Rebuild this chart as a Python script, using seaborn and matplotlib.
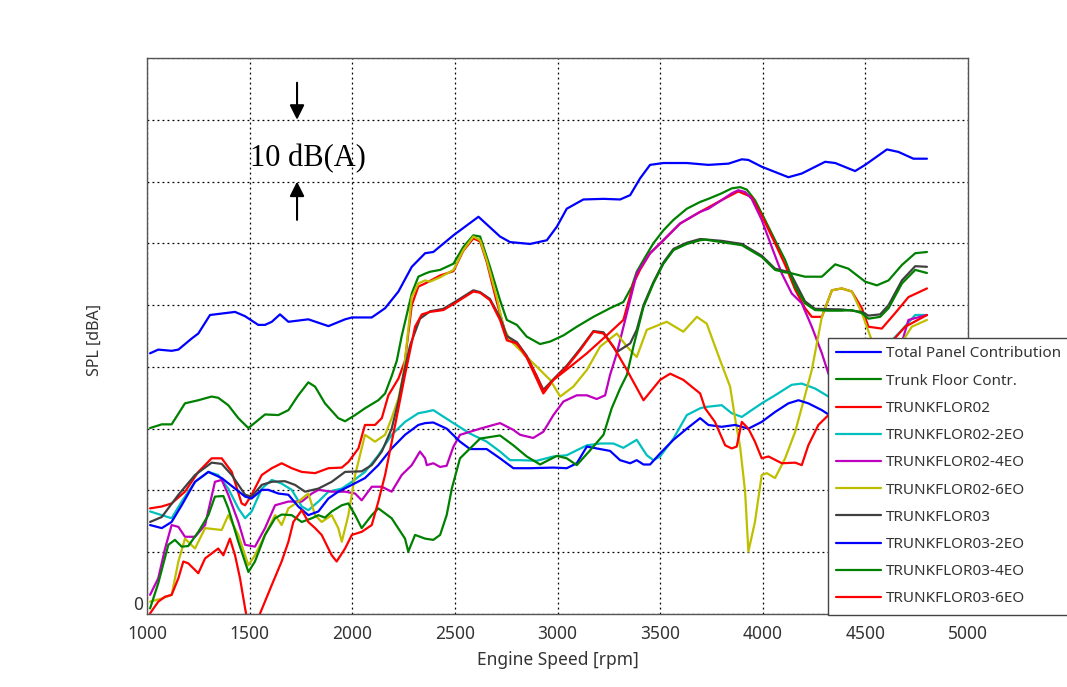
import numpy as np
import pandas as pd
import matplotlib
matplotlib.use("Agg")
import matplotlib.pyplot as plt
import seaborn as sns

# ---------------- data (rpm, dB) ----------------
total_rpm = [1015,1055,1120,1153,1218,1250,1307,1429,1478,1542,1575,1608,1648,1689,1786,1884,1965,1998,2095,2160,2225,2290,2355,2395,2493,2615,2720,2769,2866,2948,2997,3045,3126,3224,3305,3354,3402,3451,3516,3630,3735,3833,3898,3930,3995,4125,4190,4304,4353,4450,4499,4605,4661,4734,4800]
total_db = [42.2,42.8,42.6,42.8,44.6,45.4,48.4,48.9,48.2,46.8,46.8,47.3,48.5,47.3,47.7,46.6,47.7,48.0,48.0,49.5,52.2,56.2,58.4,58.6,61.3,64.3,61.1,60.2,59.9,60.5,62.7,65.6,67.1,67.2,67.1,67.8,70.5,72.7,73.0,73.0,72.7,72.9,73.6,73.5,72.4,70.7,71.3,73.2,73.0,71.7,72.7,75.2,74.8,73.7,73.7]

tf_rpm = [1015,1072,1120,1185,1250,1315,1347,1396,1445,1494,1542,1575,1640,1689,1737,1786,1819,1867,1932,1965,2014,2062,2127,2160,2192,2217,2241,2290,2322,2355,2379,2428,2493,2541,2590,2623,2671,2720,2753,2802,2850,2915,2964,3029,3094,3175,3256,3321,3362,3386,3419,3467,3516,3565,3630,3695,3735,3800,3849,3890,3922,3962,4011,4060,4109,4133,4206,4288,4353,4417,4499,4556,4613,4678,4743,4800]
tf_db = [30.1,30.7,30.7,34.1,34.6,35.2,35.0,33.8,31.7,30.1,31.4,32.3,32.2,33.0,35.4,37.5,36.8,34.1,31.7,31.2,32.2,33.3,34.6,35.7,38.5,41.0,45.0,51.9,54.6,55.1,55.4,55.7,56.7,59.4,61.3,61.1,56.2,50.8,47.6,46.8,44.9,43.7,44.1,45.1,46.5,48.1,49.5,50.5,53.0,55.4,57.3,60.0,62.1,63.8,65.6,66.7,67.2,68.1,68.9,69.1,68.7,67.0,63.8,60.5,57.3,55.2,54.6,54.6,56.6,55.9,53.8,53.2,54.0,56.5,58.4,58.6]

r02_rpm = [1015,1072,1120,1185,1250,1315,1364,1413,1461,1478,1510,1559,1608,1656,1705,1754,1819,1884,1949,1981,2030,2062,2111,2144,2176,2225,2257,2290,2322,2355,2428,2493,2541,2590,2623,2655,2704,2753,2802,2850,2899,2931,2980,3061,3143,3240,3321,3370,3402,3451,3516,3597,3695,3800,3881,3946,3995,4060,4109,4158,4206,4239,4288,4337,4385,4434,4483,4515,4580,4645,4710,4800]
r02_db = [17.1,17.4,17.9,19.8,23.0,25.2,25.2,23.0,17.9,17.6,19.3,22.5,23.6,24.4,23.6,23.0,22.8,23.6,23.7,24.6,26.8,30.6,30.6,31.7,35.4,38.1,41.0,50.0,53.0,53.5,54.8,55.5,58.8,60.8,60.3,57.0,50.5,44.8,43.5,41.5,38.0,35.7,37.9,40.0,42.2,45.1,47.6,53.5,55.7,58.4,60.5,63.2,65.1,67.0,68.4,67.5,64.5,60.0,56.5,52.5,49.5,48.1,48.1,52.4,52.7,52.2,49.5,46.5,46.2,48.7,51.3,52.7]

r02_2eo_rpm = [1015,1072,1120,1169,1234,1299,1347,1396,1445,1478,1510,1559,1608,1656,1705,1754,1786,1835,1884,1949,1998,2062,2127,2192,2257,2322,2355,2395,2493,2574,2655,2720,2769,2818,2899,2980,3045,3094,3143,3208,3272,3321,3386,3435,3467,3500,3565,3630,3695,3719,3800,3849,3898,3946,3995,4060,4141,4190,4255,4320,4400,4500,4600,4629,4678,4743,4800]
r02_2eo_db = [16.6,16.0,15.5,18.2,21.4,23.0,22.5,20.3,17.1,15.5,16.6,20.3,21.7,21.1,20.1,17.4,16.8,18.2,19.8,20.3,21.4,23.0,25.7,29.0,31.1,32.5,32.7,33.0,30.9,29.2,27.9,26.3,24.9,24.9,24.8,25.5,25.7,26.5,27.3,27.6,27.6,26.9,28.2,25.7,24.9,25.5,28.4,32.2,33.3,33.5,33.8,32.5,31.9,33.0,34.1,35.4,37.1,37.3,36.5,35.2,36.0,39.5,42.0,44.3,46.0,48.4,48.4]

r02_4eo_rpm = [1015,1055,1088,1120,1153,1185,1234,1283,1331,1364,1396,1445,1478,1526,1575,1624,1689,1754,1803,1835,1900,1965,2014,2046,2095,2144,2192,2241,2290,2330,2355,2363,2395,2428,2460,2493,2525,2623,2720,2785,2818,2882,2931,2980,3029,3094,3143,3191,3232,3256,3289,3338,3386,3451,3516,3597,3695,3735,3800,3849,3881,3914,3946,3995,4044,4093,4141,4190,4239,4288,4320,4400,4500,4600,4669,4710,4800]
r02_4eo_db = [3.1,5.8,10.6,14.4,14.1,12.5,12.5,14.4,21.4,21.7,19.3,14.9,11.2,10.9,13.9,17.6,18.2,18.2,19.5,20.1,19.8,19.8,19.5,18.4,20.6,20.6,19.8,22.5,24.1,26.3,25.2,24.1,24.4,23.8,24.0,27.1,29.0,30.0,30.9,29.8,29.0,28.5,29.5,32.2,34.4,35.4,35.4,34.8,35.4,38.7,42.2,48.7,55.1,58.4,60.5,63.2,65.1,65.6,67.0,68.1,68.6,68.3,67.2,63.8,59.4,55.1,51.9,50.3,46.5,42.2,38.9,34.0,33.5,37.0,43.0,47.6,48.4]

r02_6eo_rpm = [1015,1072,1120,1153,1185,1234,1283,1364,1396,1445,1494,1526,1575,1624,1656,1689,1737,1786,1819,1851,1900,1932,1949,1981,2014,2062,2111,2160,2192,2225,2249,2290,2322,2355,2379,2428,2493,2541,2590,2623,2655,2704,2736,2769,2818,2866,2915,2964,3013,3077,3143,3208,3289,3338,3386,3435,3532,3613,3679,3727,3792,3841,3865,3890,3914,3930,3962,3995,4020,4060,4109,4158,4206,4239,4288,4337,4385,4434,4483,4531,4600,4669,4726,4800]
r02_6eo_db = [2.0,2.5,3.1,8.5,12.2,10.6,13.9,13.6,16.0,12.8,7.9,9.5,12.8,16.0,14.4,17.1,18.2,19.5,16.0,14.9,16.0,13.9,11.7,16.0,22.5,29.0,27.9,29.0,31.7,34.9,38.7,51.3,53.5,54.0,53.8,54.5,55.7,58.9,61.1,60.5,57.3,51.3,46.5,44.3,42.7,41.1,39.5,37.9,35.2,36.8,39.5,43.3,45.4,43.3,41.6,46.0,47.3,45.7,48.1,47.0,41.1,36.8,31.7,27.0,19.8,10.1,14.9,22.5,22.8,22.0,25.2,29.5,35.4,39.5,48.1,52.4,52.7,52.2,48.7,44.3,42.0,43.5,46.5,47.6]

r03_rpm = [1015,1072,1153,1234,1315,1364,1413,1478,1510,1559,1608,1672,1721,1770,1835,1900,1965,2046,2095,2144,2192,2225,2249,2282,2330,2379,2444,2509,2590,2623,2671,2720,2753,2802,2850,2899,2931,2980,3045,3110,3175,3224,3256,3289,3354,3386,3419,3467,3516,3565,3630,3695,3800,3898,3995,4060,4133,4206,4255,4385,4483,4515,4572,4613,4678,4743,4800]
r03_db = [14.9,15.7,19.3,22.5,24.5,24.3,22.5,19.3,19.0,20.9,21.4,21.5,20.9,19.8,20.3,21.4,23.0,23.1,24.1,26.3,30.0,34.4,38.7,43.5,47.8,49.0,49.4,50.7,52.4,52.1,51.0,48.0,45.0,44.0,41.8,38.5,36.3,38.0,40.2,42.9,45.8,45.6,44.0,42.4,43.8,46.0,50.0,53.7,56.9,59.1,60.1,60.7,60.4,59.9,58.0,55.9,55.3,50.6,49.4,49.3,48.9,48.3,48.5,50.0,54.0,56.3,56.2]

r03_2eo_rpm = [1015,1072,1120,1169,1234,1299,1364,1429,1478,1510,1559,1591,1640,1689,1737,1786,1835,1884,1932,1998,2062,2127,2192,2257,2322,2355,2395,2460,2525,2574,2655,2720,2785,2866,2980,3045,3094,3143,3191,3256,3305,3354,3386,3419,3451,3500,3565,3630,3695,3735,3800,3865,3930,3995,4060,4125,4174,4222,4288,4320,4400,4500,4650,4800]
r03_2eo_db = [14.4,13.9,14.9,17.6,21.4,23.0,22.0,20.3,19.0,18.7,20.1,20.1,19.5,19.3,17.4,16.0,16.6,18.7,19.8,20.9,22.0,24.1,26.8,29.0,30.6,30.9,31.0,30.0,27.9,26.7,26.7,25.2,23.6,23.6,23.7,23.6,24.4,27.1,26.8,26.4,24.9,24.4,24.9,24.2,24.2,26.0,28.2,30.0,31.7,30.6,30.3,30.6,30.0,31.1,32.7,34.1,34.6,34.1,33.0,32.3,31.5,33.0,35.5,37.0]

r03_4eo_rpm = [1015,1055,1104,1136,1169,1201,1250,1299,1331,1372,1396,1445,1494,1526,1575,1624,1656,1705,1754,1803,1835,1867,1900,1949,1981,2014,2046,2095,2127,2192,2257,2273,2306,2355,2395,2428,2460,2485,2525,2574,2623,2720,2785,2850,2915,2997,3045,3094,3159,3224,3264,3305,3338,3370,3419,3467,3516,3565,3630,3695,3719,3800,3898,3995,4060,4109,4133,4158,4206,4255,4320,4385,4434,4483,4515,4572,4613,4678,4743,4800]
r03_4eo_db = [0.9,5.0,11.2,12.0,10.9,11.0,13.3,16.0,19.0,19.1,17.1,11.7,6.8,8.5,12.8,15.5,16.1,16.0,14.9,15.5,16.0,15.6,16.6,17.6,17.9,16.0,13.9,16.0,17.1,15.5,12.2,10.1,12.8,12.2,12.0,12.8,16.0,20.3,25.2,26.8,28.4,28.9,27.3,25.5,24.2,25.6,25.2,24.1,26.5,29.0,33.3,36.5,38.7,43.3,49.7,53.5,56.7,58.9,59.9,60.5,60.6,60.2,59.7,57.8,55.7,55.3,55.2,53.0,50.3,49.2,49.1,49.1,49.2,48.7,47.8,48.1,49.5,53.5,55.7,55.2]

r03_6eo_rpm = [1015,1055,1088,1120,1153,1177,1201,1250,1283,1315,1347,1372,1404,1429,1453,1478,1512,1551,1608,1656,1689,1713,1754,1786,1819,1851,1900,1924,1965,1998,2046,2095,2127,2160,2209,2257,2306,2339,2379,2444,2509,2590,2623,2671,2720,2753,2802,2850,2899,2931,2980,3045,3110,3175,3224,3272,3338,3419,3500,3549,3613,3695,3719,3767,3817,3849,3873,3898,3930,3962,3995,4028,4093,4158,4190,4222,4271,4320,4426,4572,4694,4800]
r03_6eo_db = [0.1,2.0,2.8,3.1,5.8,8.5,8.2,6.6,9.0,9.8,10.6,9.5,12.2,9.5,5.8,0.9,-5.0,0.1,4.7,8.5,11.7,14.9,16.8,14.9,13.9,12.8,9.5,8.5,10.6,12.8,13.3,14.4,18.2,22.5,30.6,38.7,46.5,48.5,48.9,49.2,50.5,52.2,52.0,50.8,47.6,44.3,43.8,41.6,38.5,36.0,37.9,40.0,42.7,45.7,45.4,43.3,39.5,34.6,37.9,38.9,37.9,35.7,33.3,31.1,27.3,26.8,27.1,31.1,30.0,27.9,25.2,25.5,24.4,24.5,24.1,27.3,30.6,32.2,36.0,42.0,46.5,48.4]

series_names = ["Total Panel Contribution", "Trunk Floor Contr.", "TRUNKFLOR02",
                "TRUNKFLOR02-2EO", "TRUNKFLOR02-4EO", "TRUNKFLOR02-6EO", "TRUNKFLOR03",
                "TRUNKFLOR03-2EO", "TRUNKFLOR03-4EO", "TRUNKFLOR03-6EO"]
series_colors = ["#0000FF", "#008000", "#FF0000", "#00BFBF", "#BF00BF", "#BFBF00",
                 "#404040", "#0000FF", "#008000", "#FF0000"]
x_ticks = [1000, 1500, 2000, 2500, 3000, 3500, 4000, 4500, 5000]

series_data = [(total_rpm, total_db), (tf_rpm, tf_db), (r02_rpm, r02_db),
               (r02_2eo_rpm, r02_2eo_db), (r02_4eo_rpm, r02_4eo_db), (r02_6eo_rpm, r02_6eo_db),
               (r03_rpm, r03_db), (r03_2eo_rpm, r03_2eo_db), (r03_4eo_rpm, r03_4eo_db),
               (r03_6eo_rpm, r03_6eo_db)]

frames = []
for name, (xs, ys) in zip(series_names, series_data):
    frames.append(pd.DataFrame({"rpm": xs, "spl": ys, "series": name}))
df = pd.concat(frames, ignore_index=True)

# ---------------- plot ----------------
sns.set_style("white")
plt.rcParams["font.family"] = ["Noto Sans", "DejaVu Sans"]

fig = plt.figure(figsize=(10.67, 6.87), dpi=100)
ax = fig.add_axes([147/1067, 1-614/687, (968-147)/1067, (614-58)/687])

sns.lineplot(data=df, x="rpm", y="spl", hue="series", hue_order=series_names,
             palette=dict(zip(series_names, series_colors)), sort=False,
             estimator=None, linewidth=1.6, legend=False, ax=ax)

ax.set_xlim(1000, 5000)
ax.set_ylim(0, 90)
ax.set_xticks(x_ticks)
ax.set_xticklabels([str(t) for t in x_ticks], fontsize=12.5, color="#333333")
ax.set_yticks(np.arange(0, 91, 10))
ax.set_yticklabels(["0"] + [""] * 9, fontsize=12.5, color="#333333")
ax.tick_params(direction="in", length=4, colors="#333333")
ax.tick_params(axis="x", pad=8)
ax.tick_params(axis="y", pad=3)
for lbl in ax.get_yticklabels():
    lbl.set_verticalalignment("bottom")
ax.grid(True, color="black", linestyle=(0, (1.5, 2.5)), linewidth=0.9)
for sp in ax.spines.values():
    sp.set_visible(True)
    sp.set_color("#555555")
    sp.set_linewidth(1.0)

ax.set_xlabel("Engine Speed [rpm]", fontsize=12.5, color="#333333", labelpad=6)
ax.set_ylabel("SPL [dBA]", fontsize=11.5, color="#333333")
ax.yaxis.set_label_coords(-0.054, 0.493)

# annotation: 10 dB(A)
ax.annotate("", xy=(1731, 80.0), xytext=(1731, 86.0),
            arrowprops=dict(arrowstyle="-|>", color="black", lw=1.5,
                            mutation_scale=22, shrinkA=0, shrinkB=0))
ax.annotate("", xy=(1731, 70.0), xytext=(1731, 63.8),
            arrowprops=dict(arrowstyle="-|>", color="black", lw=1.5,
                            mutation_scale=22, shrinkA=0, shrinkB=0))
ax.text(1785, 73.7, "10 dB(A)", ha="center", va="center", fontsize=22,
        family="Liberation Serif", color="black")

leg = ax.legend(ax.lines[:10], series_names, loc="upper left",
                bbox_to_anchor=(828/1067, 1-338/687), bbox_transform=fig.transFigure,
                borderaxespad=0, fancybox=False, framealpha=1, edgecolor="#444444",
                fontsize=11, handlelength=2.9, handletextpad=0.35,
                labelspacing=0.8, borderpad=0.55)
leg.get_frame().set_linewidth(1.0)
for t in leg.get_texts():
    t.set_color("#333333")

fig.savefig("out.png", dpi=100)
